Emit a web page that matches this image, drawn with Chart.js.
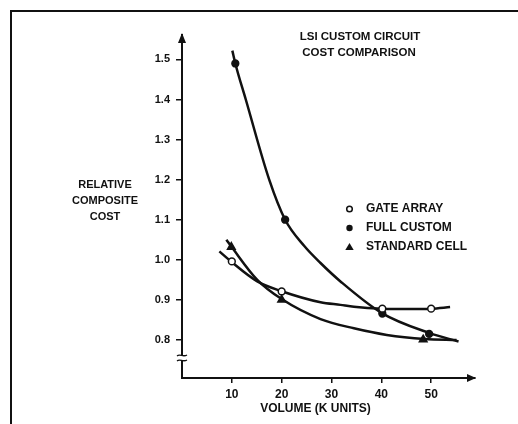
<!DOCTYPE html>
<html>
<head>
<meta charset="utf-8">
<script src="https://cdn.jsdelivr.net/npm/chart.js@4/dist/chart.umd.min.js"></script>
<style>
  html, body { margin: 0; padding: 0; background: #fff; }
  #wrap { width: 518px; height: 424px; position: relative; }
</style>
</head>
<body>
<div id="wrap"><canvas id="c" width="518" height="424"></canvas></div>
<script>
// Tick values
const xTicks = [10, 20, 30, 40, 50];
const yTicks = [0.8, 0.9, 1.0, 1.1, 1.2, 1.3, 1.4, 1.5];

// Measured points (markers)
const gateArrayX = [10, 20, 40.2, 50];
const gateArrayY = [0.996, 0.921, 0.878, 0.878];
const fullCustomX = [10.7, 20.7, 40.2, 49.6];
const fullCustomY = [1.49, 1.10, 0.866, 0.815];
const standardCellX = [9.9, 20, 48.4];
const standardCellY = [1.032, 0.90, 0.801];

// Fitted curves traced through the measurements
const gateArrayCurveX = [7.5, 9.9, 15.1, 20, 27.8, 31.8, 34.5, 40.2, 45, 50, 53.8];
const gateArrayCurveY = [1.021, 0.995, 0.946, 0.9215, 0.894, 0.8875, 0.883, 0.878, 0.877, 0.878, 0.882];
const fullCustomCurveX = [10.1, 10.7, 12.8, 17.5, 20.7, 24.5, 27.8, 31.8, 40.1, 49.7, 55.5];
const fullCustomCurveY = [1.522, 1.49, 1.40, 1.20, 1.10, 1.035, 0.992, 0.946, 0.867, 0.817, 0.796];
const standardCellCurveX = [8.9, 9.9, 15.1, 20, 27.8, 34.5, 41.1, 48.7, 55.1];
const standardCellCurveY = [1.05, 1.033, 0.95, 0.902, 0.852, 0.829, 0.8125, 0.8025, 0.80];

const seriesNames = ['GATE ARRAY', 'FULL CUSTOM', 'STANDARD CELL'];
const titleLines = ['LSI CUSTOM CIRCUIT', 'COST COMPARISON'];
const yTitleLines = ['RELATIVE', 'COMPOSITE', 'COST'];
const xTitle = 'VOLUME (K UNITS)';

const INK = '#111';
const FONT = '"Liberation Sans", Arial, Helvetica, sans-serif';

const pts = (xs, ys) => xs.map((x, i) => ({ x, y: ys[i] }));

function curve(xs, ys) {
  return {
    type: 'line',
    data: pts(xs, ys),
    borderColor: INK,
    borderWidth: 2.5,
    pointRadius: 0,
    fill: false,
    cubicInterpolationMode: 'monotone',
    order: 2
  };
}
function markers(xs, ys, style, fillColor, r) {
  return {
    type: 'scatter',
    data: pts(xs, ys),
    showLine: false,
    pointStyle: style,
    pointRadius: r,
    pointBackgroundColor: fillColor,
    pointBorderColor: INK,
    pointBorderWidth: 1.5,
    order: 1
  };
}

const decor = {
  id: 'decor',
  afterDraw(chart) {
    const ctx = chart.ctx;
    const xs = chart.scales.x, ys = chart.scales.y;
    const ax = xs.getPixelForValue(0);
    const ay = ys.getPixelForValue(ys.min);
    ctx.save();
    ctx.fillStyle = INK;
    ctx.strokeStyle = INK;

    // frame (top and left rules)
    ctx.lineWidth = 2;
    ctx.beginPath();
    ctx.moveTo(11, 424); ctx.lineTo(11, 11); ctx.lineTo(518, 11);
    ctx.stroke();

    // arrowheads
    const top = chart.chartArea.top;
    ctx.beginPath();
    ctx.moveTo(ax, top - 2); ctx.lineTo(ax - 4, top + 8); ctx.lineTo(ax + 4, top + 8);
    ctx.closePath(); ctx.fill();
    const right = chart.chartArea.right;
    ctx.beginPath();
    ctx.moveTo(right + 1, ay); ctx.lineTo(right - 8, ay - 4); ctx.lineTo(right - 8, ay + 4);
    ctx.closePath(); ctx.fill();

    // axis break
    const by = ys.getPixelForValue(0.755);
    ctx.fillStyle = '#fff';
    ctx.fillRect(ax - 3, by - 2.5, 6, 5);
    ctx.lineWidth = 1.3;
    for (const off of [-2.5, 2.5]) {
      ctx.beginPath();
      ctx.moveTo(ax - 5, by + off + 0.5);
      ctx.bezierCurveTo(ax - 2, by + off - 2, ax + 1, by + off + 2, ax + 5, by + off - 0.5);
      ctx.stroke();
    }

    // titles
    ctx.fillStyle = INK;
    ctx.textAlign = 'center';
    ctx.textBaseline = 'middle';
    ctx.font = 'bold 11.5px ' + FONT;
    ctx.fillText(titleLines[0], 360, 37);
    ctx.fillText(titleLines[1], 359, 52.5);
    ctx.font = 'bold 11px ' + FONT;
    ctx.fillText(yTitleLines[0], 105, 185);
    ctx.fillText(yTitleLines[1], 105, 201);
    ctx.fillText(yTitleLines[2], 105, 217);
    ctx.font = 'bold 12px ' + FONT;
    ctx.fillText(xTitle, 315.5, 409);

    // legend
    const lx = 349.5, tx = 366;
    const rows = [209, 228, 247];
    ctx.textAlign = 'left';
    ctx.font = 'bold 12px ' + FONT;
    rows.forEach((y, i) => ctx.fillText(seriesNames[i], tx, y));
    ctx.lineWidth = 1.5;
    ctx.beginPath(); ctx.arc(lx, rows[0], 2.8, 0, Math.PI * 2);
    ctx.fillStyle = '#fff'; ctx.fill(); ctx.stroke();
    ctx.fillStyle = INK;
    ctx.beginPath(); ctx.arc(lx, rows[1], 3.2, 0, Math.PI * 2); ctx.fill();
    ctx.beginPath();
    ctx.moveTo(lx, rows[2] - 4); ctx.lineTo(lx + 4.2, rows[2] + 3); ctx.lineTo(lx - 4.2, rows[2] + 3);
    ctx.closePath(); ctx.fill();
    ctx.restore();
  }
};

new Chart(document.getElementById('c'), {
  data: {
    datasets: [
      markers(gateArrayX, gateArrayY, 'circle', '#fff', 3.4),
      markers(fullCustomX, fullCustomY, 'circle', INK, 3.4),
      markers(standardCellX, standardCellY, 'triangle', INK, 4.4),
      curve(gateArrayCurveX, gateArrayCurveY),
      curve(fullCustomCurveX, fullCustomCurveY),
      curve(standardCellCurveX, standardCellCurveY)
    ]
  },
  options: {
    responsive: false,
    animation: false,
    events: [],
    layout: { padding: { top: 35, right: 43, left: 0, bottom: 0 } },
    plugins: { legend: { display: false }, tooltip: { enabled: false } },
    scales: {
      x: {
        type: 'linear',
        min: 0,
        max: 58.8,
        afterFit(s) { s.height = 46; },
        afterBuildTicks(s) { s.ticks = xTicks.map(v => ({ value: v })); },
        grid: { display: true, drawOnChartArea: false, drawTicks: true, tickLength: 5, color: INK, lineWidth: 1.5 },
        border: { display: true, color: INK, width: 2 },
        ticks: { color: INK, padding: 4, font: { family: FONT, size: 12, weight: 'bold' }, maxRotation: 0 }
      },
      y: {
        type: 'linear',
        min: 0.705,
        max: 1.561,
        afterFit(s) { s.width = 182; },
        afterBuildTicks(s) { s.ticks = yTicks.map(v => ({ value: v })); },
        grid: { display: true, drawOnChartArea: false, drawTicks: true, tickLength: 6, color: INK, lineWidth: 1.5 },
        border: { display: true, color: INK, width: 2 },
        ticks: {
          color: INK, padding: 6,
          font: { family: FONT, size: 11, weight: 'bold' },
          callback: v => v.toFixed(1)
        }
      }
    }
  },
  plugins: [decor]
});
</script>
</body>
</html>
